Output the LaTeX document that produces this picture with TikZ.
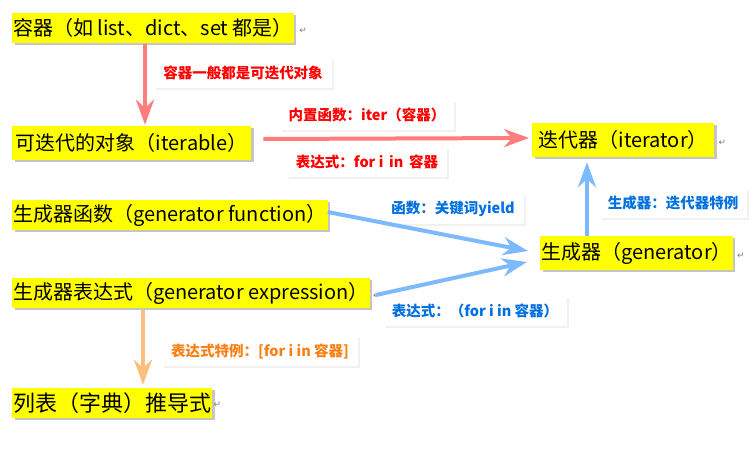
\documentclass[tikz,border=0pt]{standalone}
\usepackage{fontspec}
\setmainfont{Noto Sans CJK SC}
\newfontfamily\symfont{DejaVu Sans}
\usetikzlibrary{arrows.meta,positioning,shadows}
\definecolor{boxyel}{RGB}{255,255,0}
\definecolor{arrred}{RGB}{255,125,125}
\definecolor{arrblue}{RGB}{125,185,255}
\definecolor{arrorange}{RGB}{255,190,125}
\definecolor{txtred}{RGB}{255,0,0}
\definecolor{txtblue}{RGB}{0,112,225}
\definecolor{txtorange}{RGB}{250,128,20}
\tikzset{
  item/.style={fill=boxyel, anchor=west, inner xsep=1pt, inner ysep=0pt,
               minimum height=30pt, font=\fontsize{20}{24}\selectfont,
               drop shadow={shadow xshift=2.5pt, shadow yshift=-2.5pt, fill=black!45}},
  note/.style={fill=white, inner xsep=9pt, inner ysep=0pt, minimum height=30pt,
               font=\fontsize{14.5}{17}\selectfont\bfseries,
               drop shadow={shadow xshift=2pt, shadow yshift=-2pt, fill=black!10}},
  retmark/.style={font=\symfont\fontsize{9}{11}\selectfont, text=gray, inner sep=0pt},
  tip/.style={-{Stealth[length=25pt, width=18pt, inset=8pt]}, line width=4pt},
  redarr/.style={tip, arrred},
  bluearr/.style={tip, arrblue},
  orangearr/.style={tip, arrorange},
}

\begin{document}
\begin{tikzpicture}[x=1pt, y=-1pt]
    \fill[white] (0,0) rectangle (756,457);
    \useasboundingbox (0,0) rectangle (756,457);
    % main boxes
    \node[item] (ctr)  at (12,28)  {容器（如 list、dict、set 都是）};
    \node[item, minimum height=34pt, minimum width=239pt] (itb) at (12,143) {可迭代的对象（iterable）};
    \node[item, minimum height=34pt, minimum width=182pt] (itr) at (532,140) {迭代器（iterator）};
    \node[item] (gfun) at (12,215) {生成器函数（generator function）};
    \node[item, minimum height=34pt, minimum width=184pt] (gen) at (540,253) {生成器（generator）};
    \node[item] (gexp) at (12,293) {生成器表达式（generator expression）};
    \node[item, font=\fontsize{22}{26}\selectfont] (comp) at (12,403) {列表（字典）推导式};
    % paragraph marks
    \node[retmark, right=5pt of ctr, yshift=-3pt] (m1) {↵};
    \node[retmark, right=4pt of itr, yshift=-3pt] (m2) {↵};
    \node[retmark, right=4pt of gen, yshift=-3pt] (m3) {↵};
    \node[retmark, right=3pt of gexp, yshift=-3pt] (m4) {↵};
    \node[retmark, right=1pt of comp, yshift=-2pt] (m5) {↵};
    % edge labels
    \node[note, text=txtred]    (lab1) at (243,73)  {容器一般都是可迭代对象};
    \node[note, text=txtred]    (lab2) at (367,115) {内置函数：iter（容器）};
    \node[note, text=txtred]    (lab3) at (367,162) {表达式：for i\, in\, 容器};
    \node[note, text=txtblue]   (lab4) at (453,209) {函数：关键词yield};
    \node[note, text=txtblue]   (lab5) at (673,203) {生成器：迭代器特例};
    \node[note, text=txtblue]   (lab6) at (475,311) {表达式：（for i in 容器）};
    \node[note, text=txtorange] (lab7) at (260,351) {表达式特例：[for i in 容器]};
    % connectors
    \draw[redarr] ([xshift=133pt, yshift=-1pt]ctr.south west) -- ([xshift=133pt, yshift=1pt]itb.north west);
    \draw[redarr] ([xshift=12pt, yshift=4pt]itb.east) -- ([xshift=-3pt, yshift=2pt]itr.west);
    \draw[bluearr] ([yshift=3pt]gfun.east) -- ([xshift=-12pt, yshift=2pt]gen.west);
    \draw[bluearr] ([xshift=6pt, yshift=-2pt]gexp.east) -- ([xshift=-13pt, yshift=-9pt]gen.west);
    \draw[bluearr] ([xshift=47pt]gen.north west) -- ([xshift=55pt, yshift=-5pt]itr.south west);
    \draw[orangearr] ([xshift=131pt, yshift=-2pt]gexp.south west) -- ([xshift=131pt, yshift=3pt]comp.north west);
\end{tikzpicture}
\end{document}
